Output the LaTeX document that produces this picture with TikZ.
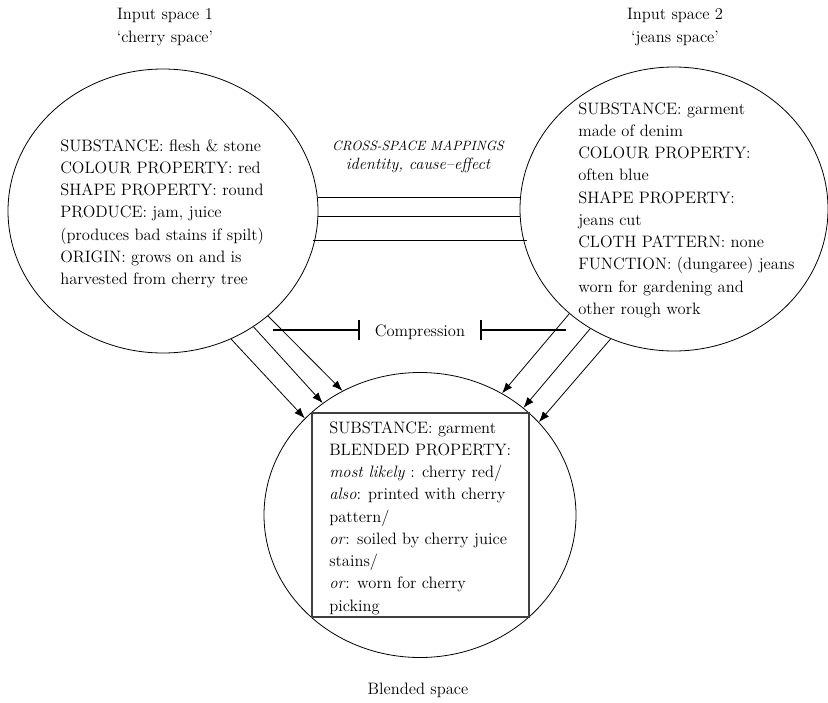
\documentclass[tikz,border=0pt]{standalone}
\usetikzlibrary{shapes.geometric,arrows.meta}
\newcommand{\bodyfont}{\fontsize{12.4}{16.7}\selectfont}
\newcommand{\mapfont}{\fontsize{12.2}{14.3}\selectfont\itshape}
\newcommand{\mapcaps}{\fontsize{10.1}{14.3}\selectfont}

\begin{document}
\begin{tikzpicture}[x=0.75pt,y=-0.75pt,font=\bodyfont,
  space/.style={draw,ellipse,inner sep=0pt,line width=0.6pt},
  facts/.style={align=left,inner sep=0pt,anchor=north west},
  title/.style={align=center,inner sep=0pt},
  link/.style={line width=0.6pt},
  proj/.style={-{Latex[length=8pt,width=6pt]},line width=0.6pt},
  squeeze/.style={-{Bar[width=15pt,line width=1.3pt]},line width=1.3pt}]
  \useasboundingbox (0,0) rectangle (828,703);
  \node[space,minimum width=232.5pt,minimum height=213pt] (cherry) at (163,211) {};
  \node[space,minimum width=231pt,minimum height=213pt] (jeans) at (674,209) {};
  \node[space,minimum width=234pt,minimum height=213.75pt] (blend) at (420,515) {};
  \node[draw=black!75,line width=1pt,minimum width=162.75pt,minimum height=153pt,inner sep=0pt]
    (frame) at (420.5,515) {};
  \node[title] (cherrytitle) at (165,27) {Input space 1\\`cherry space'};
  \node[title] (jeanstitle) at (675,27) {Input space 2\\`jeans space'};
  \node[title] (blendtitle) at (418,690) {Blended space};
  \node[facts] (cherryfacts) at (60,139)
    {SUBSTANCE: flesh \& stone\\
     COLOUR PROPERTY: red\\
     SHAPE PROPERTY: round\\
     PRODUCE: jam, juice\\
     (produces bad stains if spilt)\\
     ORIGIN: grows on and is\\
     harvested from cherry tree};
  \node[facts] (jeansfacts) at (578,102)
    {SUBSTANCE: garment\\
     made of denim\\
     COLOUR PROPERTY:\\
     often blue\\
     SHAPE PROPERTY:\\
     jeans cut\\
     CLOTH PATTERN: none\\
     FUNCTION: (dungaree) jeans\\
     worn for gardening and\\
     other rough work};
  \node[facts] (blendfacts) at (329,421)
    {SUBSTANCE: garment\\
     BLENDED PROPERTY:\\
     \textit{most likely} : cherry red/\\
     \textit{also}: printed with cherry\\
     pattern/\\
     \textit{or}: soiled by cherry juice\\
     stains/\\
     \textit{or}: worn for cherry\\
     picking};
  \node[title,font=\mapfont] (mappings) at (418,157)
    {{\mapcaps CROSS-SPACE MAPPINGS}\\identity, cause--effect};
  \draw[link] (cherry.5.2) -- (cherry.5.2 -| jeans.175.5);
  \draw[link] (cherry.-2.6) -- (cherry.-2.6 -| jeans.183.4);
  \draw[link,shorten <=-1.5pt,shorten >=-2.5pt] (cherry.-11.2) -- (cherry.-11.2 -| jeans.192);
  \node[inner xsep=11pt] (comp) at (420,332) {Compression};
  \coordinate (compleft) at (273,330);
  \coordinate (compright) at (566,330);
  \draw[squeeze] (compleft) -- (compleft -| comp.west);
  \draw[squeeze] (compright) -- (compright -| comp.east);
  \draw[proj] (cherry.-62.6) -- (blend.140.3);
  \draw[proj] (cherry.-52.4) -- (blend.131.2);
  \draw[proj] (cherry.-45.3) -- (blend.122.6);
  \draw[proj] (jeans.225.3) -- (blend.56);
  \draw[proj] (jeans.235.9) -- (blend.46);
  \draw[proj] (jeans.244.8) -- (blend.38.3);
\end{tikzpicture}
\end{document}
